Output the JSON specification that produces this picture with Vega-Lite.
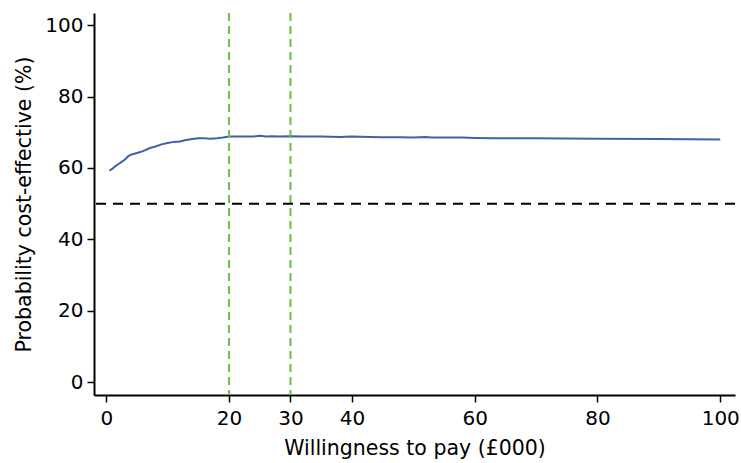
{
  "$schema": "https://vega.github.io/schema/vega-lite/v6.json",
  "width": 641,
  "height": 382,
  "autosize": {"type": "none"},
  "padding": {"left": 94, "top": 13, "right": 6, "bottom": 68},
  "background": "white",
  "config": {
    "view": {"stroke": null},
    "font": "DejaVu Sans",
    "axis": {
      "grid": false,
      "domainColor": "black",
      "domainWidth": 2,
      "tickColor": "black",
      "tickWidth": 1.5,
      "tickSize": 7,
      "labelFont": "DejaVu Sans",
      "labelFontSize": 20,
      "labelColor": "black",
      "titleFont": "DejaVu Sans",
      "titleFontSize": 20.5,
      "titleFontWeight": "normal",
      "titleColor": "black"
    }
  },
  "layer": [
    {
      "data": {"values": [
        {"x": 0.5, "p": 59.2}, {"x": 1, "p": 59.8}, {"x": 1.5, "p": 60.5}, {"x": 2, "p": 61.1},
        {"x": 2.5, "p": 61.7}, {"x": 3, "p": 62.3}, {"x": 3.5, "p": 63.2}, {"x": 4, "p": 63.7},
        {"x": 5, "p": 64.2}, {"x": 6, "p": 64.7}, {"x": 7, "p": 65.5}, {"x": 8, "p": 66.0},
        {"x": 9, "p": 66.6}, {"x": 10, "p": 67.0}, {"x": 11, "p": 67.3}, {"x": 12, "p": 67.4},
        {"x": 13, "p": 67.8}, {"x": 14, "p": 68.1}, {"x": 15, "p": 68.3}, {"x": 16, "p": 68.3},
        {"x": 17, "p": 68.2}, {"x": 18, "p": 68.3}, {"x": 19, "p": 68.5}, {"x": 20, "p": 68.8},
        {"x": 22, "p": 68.8}, {"x": 24, "p": 68.8}, {"x": 25, "p": 69.0}, {"x": 26, "p": 68.8},
        {"x": 27, "p": 68.9}, {"x": 28, "p": 68.8}, {"x": 30, "p": 68.9}, {"x": 32, "p": 68.8},
        {"x": 35, "p": 68.8}, {"x": 38, "p": 68.7}, {"x": 40, "p": 68.8}, {"x": 43, "p": 68.7},
        {"x": 45, "p": 68.6}, {"x": 48, "p": 68.6}, {"x": 50, "p": 68.5}, {"x": 52, "p": 68.7},
        {"x": 53, "p": 68.5}, {"x": 55, "p": 68.5}, {"x": 58, "p": 68.5}, {"x": 60, "p": 68.4},
        {"x": 63, "p": 68.3}, {"x": 70, "p": 68.3}, {"x": 80, "p": 68.2}, {"x": 90, "p": 68.1},
        {"x": 100, "p": 68.0}
      ]},
      "mark": {"type": "line", "color": "#3a62ad", "strokeWidth": 2},
      "encoding": {
        "x": {
          "field": "x", "type": "quantitative",
          "scale": {"domain": [-2, 102.4], "nice": false, "zero": false},
          "axis": {"values": [0, 20, 30, 40, 60, 80, 100], "title": "Willingness to pay (£000)", "labelPadding": 6, "titlePadding": 10}
        },
        "y": {
          "field": "p", "type": "quantitative",
          "scale": {"domain": [-3.6, 103.4], "nice": false, "zero": false},
          "axis": {"values": [0, 20, 40, 60, 80, 100], "title": "Probability cost-effective (%)", "labelPadding": 4, "titlePadding": 10}
        }
      }
    },
    {
      "data": {"values": [{"w": 20}, {"w": 30}]},
      "mark": {"type": "rule", "color": "#6abf4b", "strokeWidth": 2, "strokeDash": [8, 5]},
      "encoding": {"x": {"field": "w", "type": "quantitative"}}
    },
    {
      "data": {"values": [{"t": 50}]},
      "mark": {"type": "rule", "color": "black", "strokeWidth": 2, "strokeDash": [10, 7]},
      "encoding": {"y": {"field": "t", "type": "quantitative"}}
    }
  ]
}
